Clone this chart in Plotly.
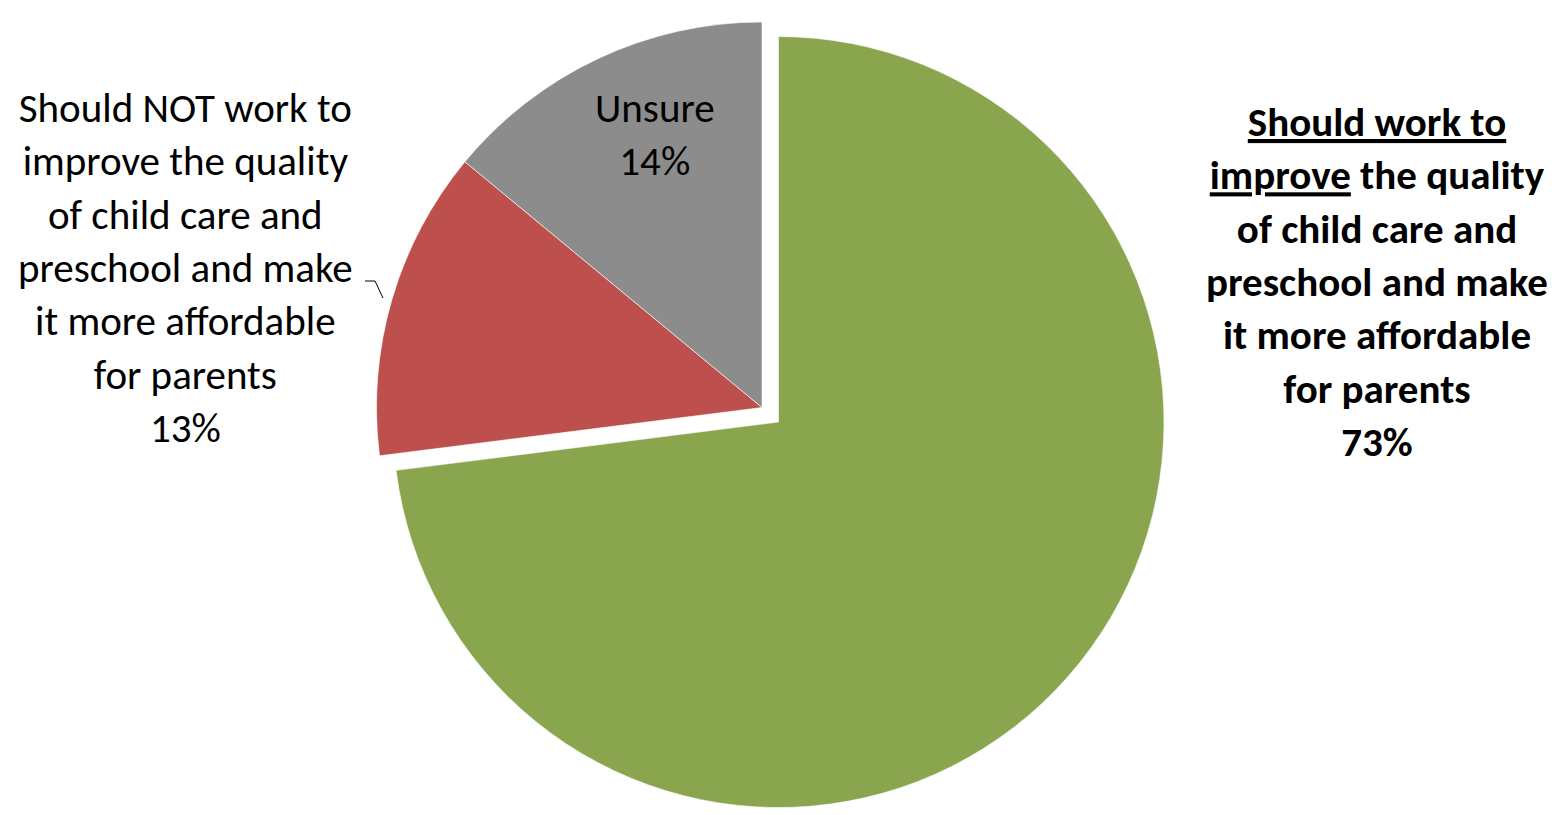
import plotly.graph_objects as go

# ---- data ----
categories = [
    "Should work to improve the quality of child care and preschool and make it more affordable for parents",
    "Should NOT work to improve the quality of child care and preschool and make it more affordable for parents",
    "Unsure",
]
values = [73, 13, 14]
colors = ["#89A64E", "#BD504C", "#8C8C8C"]
pulls = [0.057, 0, 0]

label_left = "Should NOT work to<br>improve the quality<br>of child care and<br>preschool and make<br>it more affordable<br>for parents<br>13%"
label_right = "<b><u>Should work to</u><br><u>improve</u> the quality<br>of child care and<br>preschool and make<br>it more affordable<br>for parents<br>73%</b>"
label_unsure = "Unsure<br>14%"

W, H = 1566, 815
FONT = "Carlito, Lato, sans-serif"
CX = 762

fig = go.Figure()
fig.add_trace(go.Pie(
    labels=categories,
    values=values,
    sort=False,
    direction="clockwise",
    rotation=0,
    pull=pulls,
    marker=dict(colors=colors, line=dict(color="rgba(255,255,255,0.6)", width=1)),
    textinfo="none",
    hoverinfo="label+percent",
    showlegend=False,
    domain=dict(x=[CX / W - 0.35, CX / W + 0.35], y=[0, 1]),
))

fig.add_annotation(x=185 / W, y=1 - 268 / H, xref="paper", yref="paper",
                   text=label_left, showarrow=False, xanchor="center", yanchor="middle",
                   align="center", font=dict(family=FONT, size=41, color="#000000"))
fig.add_annotation(x=1377 / W, y=1 - 282 / H, xref="paper", yref="paper",
                   text=label_right, showarrow=False, xanchor="center", yanchor="middle",
                   align="center", font=dict(family=FONT, size=41, color="#000000"))
fig.add_annotation(x=655 / W, y=1 - 135 / H, xref="paper", yref="paper",
                   text=label_unsure, showarrow=False, xanchor="center", yanchor="middle",
                   align="center", font=dict(family=FONT, size=41, color="#000000"))

# small leader line from left label to red slice
fig.add_shape(type="path", xref="paper", yref="paper",
              path=f"M {365/W} {1-281/H} L {375/W} {1-281/H} L {383/W} {1-298/H}",
              line=dict(color="#000000", width=1))

fig.update_layout(
    width=W, height=H,
    margin=dict(l=0, r=0, t=0, b=0),
    paper_bgcolor="#FFFFFF",
    plot_bgcolor="#FFFFFF",
)

fig.write_html("out.html", config={"displayModeBar": False},
               post_script="document.body.style.margin='0';")
